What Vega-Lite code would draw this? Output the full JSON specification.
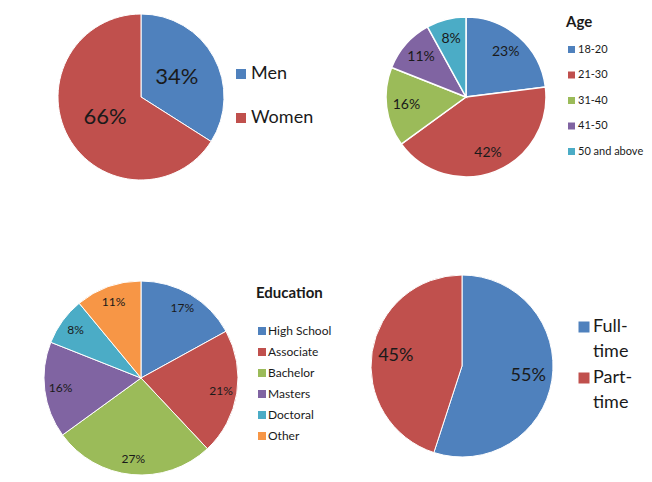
{
  "$schema": "https://vega.github.io/schema/vega-lite/v6.json",
  "padding": 0,
  "background": "white",
  "config": {
    "view": {"stroke": null},
    "font": "Lato",
    "style": {"guide-label": {"lineHeight": 25}},
    "legend": {"padding": 0, "symbolType": "square", "symbolStrokeWidth": 0, "symbolOpacity": 1, "labelColor": "#1a1a1a", "titleColor": "#1a1a1a", "labelFont": "Lato", "titleFont": "Lato", "titleFontWeight": "bold"}
  },
  "datasets": {
    "gender": [
      {"category": "Men", "share": 0.34, "i": 1},
      {"category": "Women", "share": 0.66, "i": 2}
    ],
    "age": [
      {"category": "18-20", "share": 0.23, "i": 1},
      {"category": "21-30", "share": 0.42, "i": 2},
      {"category": "31-40", "share": 0.16, "i": 3},
      {"category": "41-50", "share": 0.11, "i": 4},
      {"category": "50 and above", "share": 0.08, "i": 5}
    ],
    "edu": [
      {"category": "High School", "share": 0.17, "i": 1},
      {"category": "Associate", "share": 0.21, "i": 2},
      {"category": "Bachelor", "share": 0.27, "i": 3},
      {"category": "Masters", "share": 0.16, "i": 4},
      {"category": "Doctoral", "share": 0.08, "i": 5},
      {"category": "Other", "share": 0.11, "i": 6}
    ],
    "job": [
      {"category": "Full-time", "share": 0.55, "i": 1},
      {"category": "Part-time", "share": 0.45, "i": 2}
    ]
  },
  "spacing": 76,
  "bounds": "full",
  "resolve": {"scale": {"color": "independent", "theta": "independent"}, "legend": {"color": "independent"}},
  "vconcat": [
    {
      "spacing": 0,
      "bounds": "flush",
      "resolve": {"scale": {"color": "independent", "theta": "independent"}, "legend": {"color": "independent"}},
      "hconcat": [
        {
          "width": 282, "height": 194,
          "data": {"name": "gender"},
          "encoding": {
            "theta": {"field": "share", "type": "quantitative", "stack": true},
            "order": {"field": "i", "type": "quantitative"},
            "color": {"field": "category", "type": "nominal",
              "scale": {"domain": ["Men", "Women"], "range": ["#4F81BD", "#C0504D"]},
              "legend": {"title": null, "orient": "none", "legendX": 232, "legendY": 65, "labelFontSize": 18, "symbolSize": 100, "rowPadding": 26, "labelOffset": 1}}
          },
          "layer": [
            {"mark": {"type": "arc", "radius": 83, "stroke": "#ffffff", "strokeWidth": 1}},
            {"mark": {"type": "text", "radius": 41, "fontSize": 22},
             "encoding": {"text": {"field": "share", "type": "quantitative", "format": ".0%"}, "color": {"value": "#1a1a1a"}}}
          ]
        },
        {
          "width": 368, "height": 194,
          "data": {"name": "age"},
          "encoding": {
            "theta": {"field": "share", "type": "quantitative", "stack": true},
            "order": {"field": "i", "type": "quantitative"},
            "color": {"field": "category", "type": "nominal",
              "scale": {"domain": ["18-20", "21-30", "31-40", "41-50", "50 and above"], "range": ["#4F81BD", "#C0504D", "#9BBB59", "#8064A2", "#4BACC6"]},
              "legend": {"title": "Age", "orient": "none", "legendX": 284, "legendY": 15, "titleFontSize": 15, "labelFontSize": 11, "symbolSize": 49, "rowPadding": 13.5, "titlePadding": 14, "labelOffset": 1}}
          },
          "layer": [
            {"mark": {"type": "arc", "radius": 80, "stroke": "#ffffff", "strokeWidth": 1.5}},
            {"mark": {"type": "text", "radius": 60, "fontSize": 14},
             "encoding": {"text": {"field": "share", "type": "quantitative", "format": ".0%"}, "color": {"value": "#1a1a1a"}}}
          ]
        }
      ]
    },
    {
      "spacing": 0,
      "bounds": "flush",
      "resolve": {"scale": {"color": "independent", "theta": "independent"}, "legend": {"color": "independent"}},
      "hconcat": [
        {
          "width": 282, "height": 216,
          "data": {"name": "edu"},
          "encoding": {
            "theta": {"field": "share", "type": "quantitative", "stack": true},
            "order": {"field": "i", "type": "quantitative"},
            "color": {"field": "category", "type": "nominal",
              "scale": {"domain": ["High School", "Associate", "Bachelor", "Masters", "Doctoral", "Other"], "range": ["#4F81BD", "#C0504D", "#9BBB59", "#8064A2", "#4BACC6", "#F79646"]},
              "legend": {"title": "Education", "orient": "none", "legendX": 256, "legendY": 16, "titleFontSize": 15, "labelFontSize": 12, "symbolSize": 64, "rowPadding": 9, "titlePadding": 24, "labelOffset": 0}}
          },
          "layer": [
            {"mark": {"type": "arc", "radius": 97, "stroke": "#ffffff", "strokeWidth": 1}},
            {"mark": {"type": "text", "radius": 81, "fontSize": 12},
             "encoding": {"text": {"field": "share", "type": "quantitative", "format": ".0%"}, "color": {"value": "#1a1a1a"}}}
          ]
        },
        {
          "width": 360, "height": 192,
          "data": {"name": "job"},
          "encoding": {
            "theta": {"field": "share", "type": "quantitative", "stack": true},
            "order": {"field": "i", "type": "quantitative"},
            "color": {"field": "category", "type": "nominal",
              "scale": {"domain": ["Full-time", "Part-time"], "range": ["#4F81BD", "#C0504D"]},
              "legend": {"title": null, "orient": "none", "legendX": 293, "legendY": 48, "labelFontSize": 18, "symbolSize": 121, "rowPadding": 8, "labelOffset": 0,
                "labelExpr": "[split(datum.label, '-')[0] + '-', split(datum.label, '-')[1]]"}}
          },
          "layer": [
            {"mark": {"type": "arc", "radius": 91, "stroke": "#ffffff", "strokeWidth": 1}},
            {"mark": {"type": "text", "radius": 67, "fontSize": 18},
             "encoding": {"text": {"field": "share", "type": "quantitative", "format": ".0%"}, "color": {"value": "#1a1a1a"}}}
          ]
        }
      ]
    }
  ]
}
